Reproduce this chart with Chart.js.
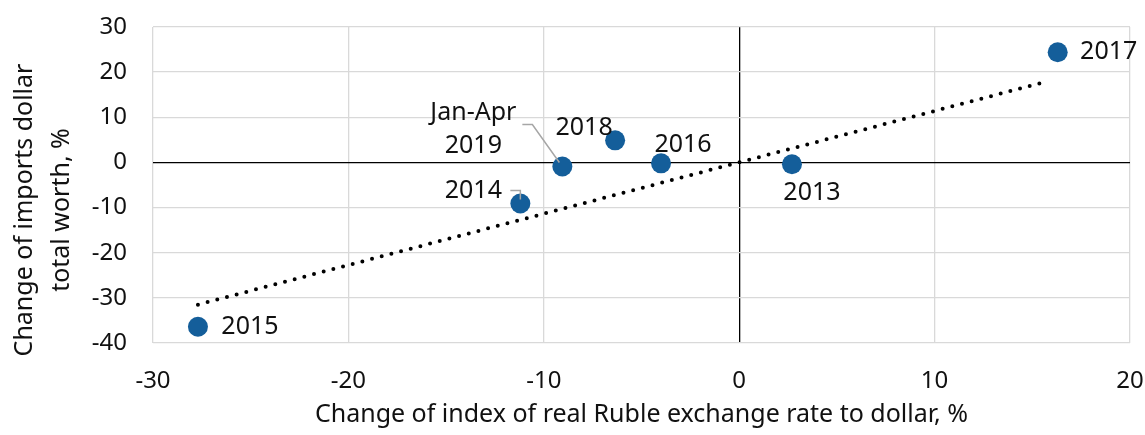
<!DOCTYPE html>
<html>
<head>
<meta charset="utf-8">
<script src="https://cdn.jsdelivr.net/npm/chart.js@4"></script>
<style>
  html, body { margin: 0; padding: 0; background: #fff; }
</style>
</head>
<body>
<canvas id="chart" width="1145" height="435"></canvas>
<script>
const years = ['2013', '2014', '2015', '2016', '2017', '2018', 'Jan-Apr\n2019'];
const rubleChange = [2.7, -11.2, -27.7, -4.0, 16.3, -6.35, -9.05];
const importsChange = [-0.4, -9.1, -36.4, -0.2, 24.4, 4.9, -0.9];

// trendline ends
const trendX = [-27.7, 15.8];
const trendY = [-31.5, 18.0];

const xTicks = [-30, -20, -10, 0, 10, 20];
const yTicks = [-40, -30, -20, -10, 0, 10, 20, 30];

// label placement relative to the point (px), and optional leader line
const labelPos = [
  { dx: 20, dy: 29 },
  { dx: -47, dy: -13, leader: [[-10, -13], [0, -13], [0, -4]] },
  { dx: 52, dy: 0 },
  { dx: 22, dy: -18 },
  { dx: 51, dy: 0 },
  { dx: -31, dy: -12 },
  { dx: -89, dy: -54, lineGap: 33, leader: [[-40, -42], [-30, -42], [-3, -4]] },
];

const FONT = '"Noto Sans", sans-serif';
const TICK_SIZE = 24;
const TEXT_SIZE = 25;

const pointLabels = {
  id: 'pointLabels',
  afterDatasetsDraw(chart) {
    const ctx = chart.ctx;
    const meta = chart.getDatasetMeta(0);
    ctx.save();
    meta.data.forEach((pt, i) => {
      const pos = labelPos[i];
      if (pos.leader) {
        ctx.strokeStyle = '#a6a6a6';
        ctx.lineWidth = 1.5;
        ctx.beginPath();
        pos.leader.forEach(([lx, ly], k) => {
          if (k === 0) ctx.moveTo(pt.x + lx, pt.y + ly);
          else ctx.lineTo(pt.x + lx, pt.y + ly);
        });
        ctx.stroke();
      }
      ctx.fillStyle = '#111';
      ctx.font = TEXT_SIZE + 'px ' + FONT;
      ctx.textAlign = 'center';
      ctx.textBaseline = 'middle';
      years[i].split('\n').forEach((line, k) => {
        ctx.fillText(line, pt.x + pos.dx, pt.y + pos.dy + k * (pos.lineGap || 0));
      });
    });
    ctx.restore();
  }
};

const axisTitles = {
  id: 'axisTitles',
  afterDraw(chart) {
    const ctx = chart.ctx;
    const area = chart.chartArea;
    ctx.save();
    ctx.fillStyle = '#111';
    ctx.font = TEXT_SIZE + 'px ' + FONT;
    ctx.textAlign = 'center';
    ctx.textBaseline = 'middle';
    ctx.fillText('Change of index of real Ruble exchange rate to dollar, %', (area.left + area.right) / 2, 415);
    ctx.translate(0, 210);
    ctx.rotate(-Math.PI / 2);
    ctx.fillText('Change of imports dollar', 0, 25);
    ctx.fillText('total worth, %', 0, 62);
    ctx.restore();
  }
};

const gridColor = c => (c.tick && c.tick.value === 0 ? '#000' : '#d9d9d9');

new Chart(document.getElementById('chart'), {
  type: 'scatter',
  data: {
    datasets: [
      {
        label: 'points',
        data: rubleChange.map((x, i) => ({ x, y: importsChange[i] })),
        backgroundColor: '#145e9a',
        borderWidth: 0,
        pointRadius: 10,
        pointHoverRadius: 10,
      },
      {
        label: 'trend',
        data: trendX.map((x, i) => ({ x, y: trendY[i] })),
        showLine: true,
        borderColor: '#000',
        borderWidth: 4,
        borderDash: [0, 10],
        borderCapStyle: 'round',
        pointRadius: 0,
        fill: false,
      }
    ]
  },
  options: {
    responsive: false,
    animation: false,
    maintainAspectRatio: false,
    layout: { padding: { left: 0, right: 15, top: 27, bottom: 0 } },
    plugins: {
      legend: { display: false },
      tooltip: { enabled: false },
    },
    scales: {
      x: {
        type: 'linear',
        min: -30,
        max: 20,
        afterBuildTicks: s => { s.ticks = xTicks.map(v => ({ value: v })); },
        afterFit: s => { s.height = 92; s.paddingLeft = 0; s.paddingRight = 0; },
        grid: { color: gridColor, lineWidth: 1.3, drawTicks: false },
        border: { display: false },
        ticks: { color: '#111', padding: 24, maxRotation: 0, font: { family: FONT, size: TICK_SIZE } },
      },
      y: {
        type: 'linear',
        min: -40,
        max: 30,
        afterBuildTicks: s => { s.ticks = yTicks.map(v => ({ value: v })); },
        afterFit: s => { s.width = 153; s.paddingTop = 0; s.paddingBottom = 0; },
        grid: { color: gridColor, lineWidth: 1.3, drawTicks: false },
        border: { display: false },
        ticks: { color: '#111', padding: 26, font: { family: FONT, size: TICK_SIZE } },
      }
    }
  },
  plugins: [pointLabels, axisTitles]
});
</script>
</body>
</html>
